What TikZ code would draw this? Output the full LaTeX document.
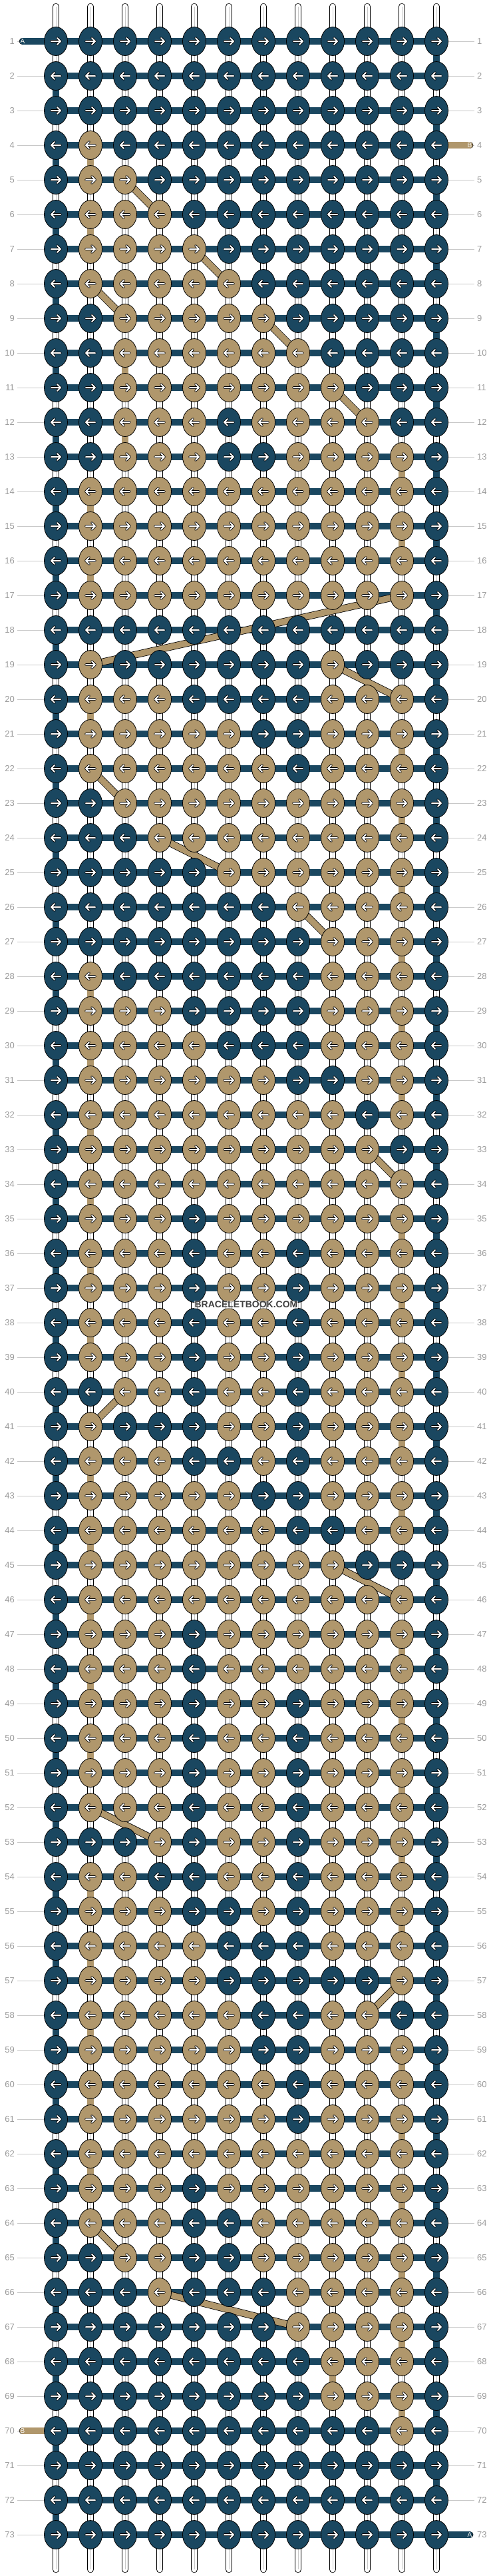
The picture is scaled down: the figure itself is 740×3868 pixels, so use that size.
\documentclass[tikz,border=0pt]{standalone}
\usepackage{fontspec}
\setmainfont{Liberation Sans}
\usetikzlibrary{shapes.geometric}
\definecolor{cordblue}{RGB}{26,71,96}
\definecolor{cordtan}{RGB}{176,151,108}
\definecolor{numgray}{RGB}{155,155,155}
\definecolor{linegray}{RGB}{200,200,200}
\pgfdeclarelayer{warp}
\pgfdeclarelayer{weft}
\pgfsetlayers{warp,weft,main}
\tikzset{
  knot/.style={ellipse, draw=black, line width=0.8pt, minimum width=35pt,
    minimum height=43pt, inner sep=0pt},
  c0/.style={fill=cordblue},
  c1/.style={fill=cordtan},
  strand/.style={draw=black, line width=0.8pt, double distance=9.2pt},
  warpstr/.style={strand, double=white, double distance=8.8pt, line cap=round},
  ablue/.style={strand, double=cordblue},
  btan/.style={strand, double=cordtan},
  rowno/.style={text=numgray, font=\fontsize{13}{13}\selectfont, inner sep=4pt},
  endno/.style={text=white!90!cordtan, font=\fontsize{10}{10}\selectfont, inner sep=0pt},
  pics/knotarrow/.style={code={
    \draw[black, line width=3.8pt, line cap=round, line join=round]
      ({-7*(#1)},0) -- ({7*(#1)},0) ({2*(#1)},-5) -- ({7*(#1)},0) -- ({2*(#1)},5);
    \draw[white, line width=2pt, line cap=round, line join=round]
      ({-7*(#1)},0) -- ({7*(#1)},0) ({2*(#1)},-5) -- ({7*(#1)},0) -- ({2*(#1)},5);
  }}
}
\begin{document}
\begin{tikzpicture}[x=1pt,y=-1pt]
\useasboundingbox (0,0) rectangle (740,3868);
\foreach \bits [count=\r] in {
  {0,0,0,0,0,0,0,0,0,0,0,0},{0,0,0,0,0,0,0,0,0,0,0,0},{0,0,0,0,0,0,0,0,0,0,0,0},
  {0,1,0,0,0,0,0,0,0,0,0,0},{0,1,1,0,0,0,0,0,0,0,0,0},{0,1,1,1,0,0,0,0,0,0,0,0},
  {0,1,1,1,1,0,0,0,0,0,0,0},{0,1,1,1,1,1,0,0,0,0,0,0},{0,0,1,1,1,1,1,0,0,0,0,0},
  {0,0,1,1,1,1,1,1,0,0,0,0},{0,0,1,1,1,1,1,1,1,0,0,0},{0,0,1,1,1,0,1,1,1,1,0,0},
  {0,0,1,1,1,0,0,1,1,1,1,0},{0,1,1,1,1,1,1,1,1,1,1,0},{0,1,1,1,1,1,1,1,1,1,1,0},
  {0,1,1,1,1,1,1,1,1,1,1,0},{0,1,1,1,1,1,1,1,1,1,1,0},{0,0,0,0,0,0,0,0,0,0,0,0},
  {0,1,0,0,0,0,0,0,1,0,0,0},{0,1,1,1,0,0,0,0,1,1,1,0},{0,1,1,1,1,1,0,0,1,1,1,0},
  {0,1,1,1,1,1,1,0,1,1,1,0},{0,0,1,1,1,1,1,1,1,1,1,0},{0,0,0,1,1,1,1,1,1,1,1,0},
  {0,0,0,0,0,1,1,1,1,1,1,0},{0,0,0,0,0,0,0,1,1,1,1,0},{0,0,0,0,0,0,0,0,1,1,1,0},
  {0,1,0,0,0,0,0,0,1,1,1,0},{0,1,1,1,0,0,0,0,1,1,1,0},{0,1,1,1,1,0,0,0,1,1,1,0},
  {0,1,1,1,1,1,1,0,0,1,1,0},{0,1,1,1,1,1,1,1,1,0,1,0},{0,1,1,1,1,1,1,1,1,1,0,0},
  {0,1,1,1,1,1,1,1,1,1,1,0},{0,1,1,1,0,1,1,1,1,1,1,0},{0,1,1,1,0,1,1,0,1,1,1,0},
  {0,1,1,1,0,1,1,0,1,1,1,0},{0,1,1,1,0,1,1,0,1,1,1,0},{0,1,1,1,0,1,1,0,1,1,1,0},
  {0,0,1,1,0,1,1,0,1,1,1,0},{0,1,0,0,0,1,1,0,1,1,1,0},{0,1,1,1,0,0,1,0,1,1,1,0},
  {0,1,1,1,1,1,0,0,1,1,1,0},{0,1,1,1,1,1,1,0,0,1,1,0},{0,1,1,1,1,1,1,1,1,0,0,0},
  {0,1,1,1,1,1,1,1,1,1,1,0},{0,1,1,1,0,1,1,1,1,1,1,0},{0,1,1,1,0,1,1,1,1,1,1,0},
  {0,1,1,1,0,1,1,0,1,1,1,0},{0,1,1,1,0,1,1,0,1,1,1,0},{0,1,1,1,0,1,1,0,1,1,1,0},
  {0,1,1,1,0,1,1,0,1,1,1,0},{0,0,0,1,0,1,1,0,1,1,1,0},{0,1,1,0,0,1,1,0,1,1,1,0},
  {0,1,1,1,0,0,1,0,1,1,1,0},{0,1,1,1,1,0,0,0,1,1,1,0},{0,1,1,1,1,0,0,0,0,0,1,0},
  {0,1,1,1,1,1,0,0,1,1,0,0},{0,1,1,1,1,1,0,0,1,1,1,0},{0,1,1,1,1,1,1,0,1,1,1,0},
  {0,1,1,1,1,1,1,0,1,1,1,0},{0,1,1,1,1,1,1,1,1,1,1,0},{0,1,1,1,0,1,1,1,1,1,1,0},
  {0,1,1,1,0,0,1,1,1,1,1,0},{0,0,1,1,0,0,1,1,1,1,1,0},{0,0,0,1,0,0,0,1,1,1,1,0},
  {0,0,0,0,0,0,0,1,1,1,1,0},{0,0,0,0,0,0,0,0,1,1,1,0},{0,0,0,0,0,0,0,0,1,1,1,0},
  {0,0,0,0,0,0,0,0,0,0,1,0},{0,0,0,0,0,0,0,0,0,0,0,0},{0,0,0,0,0,0,0,0,0,0,0,0},
  {0,0,0,0,0,0,0,0,0,0,0,0}} {
  \pgfmathtruncatemacro\s{1-2*mod(\r+1,2)}
  \foreach \b [count=\c] in \bits {
    \node[knot, c\b] (k-\r-\c) at ({84+52*(\c-1)},{62+52*(\r-1)}) {};
    \pic at (k-\r-\c) {knotarrow=\s};
  }
  \node[rowno, anchor=east] (ln-\r) at (26,{62+52*(\r-1)}) {\r};
  \node[rowno, anchor=west] (rn-\r) at (713,{62+52*(\r-1)}) {\r};
  \begin{pgfonlayer}{warp}
    \draw[linegray, line width=0.8pt] (ln-\r.east) -- (k-\r-1.center)
      (k-\r-12.center) -- (rn-\r.west);
  \end{pgfonlayer}
  \begin{pgfonlayer}{weft}
    \draw[ablue] (k-\r-1.center) -- (k-\r-12.center);
  \end{pgfonlayer}
}
\foreach \c in {1,...,12} {
  \coordinate (top-\c) at ({84+52*(\c-1)},10);
  \coordinate (bot-\c) at ({84+52*(\c-1)},3858);
  \begin{pgfonlayer}{warp}
    \draw[warpstr] (top-\c) -- (bot-\c);
    \draw[linegray, line width=0.5pt] (top-\c) -- (bot-\c);
  \end{pgfonlayer}
}
\node[endno] (aIn) at (34,62) {A};
\node[endno] (aOut) at (706,3806) {A};
\node[endno] (bIn) at (706,218) {B};
\node[endno] (bOut) at (34,3650) {B};
\begin{pgfonlayer}{weft}
  \draw[ablue, line cap=round] (aIn.center) -- (k-1-1.center);
  \draw[ablue, line cap=round] (k-73-12.center) -- (aOut.center);
  \draw[btan, line cap=round] (bIn.center) -- (k-4-12.center);
  \draw[btan, line cap=round] (k-70-1.center) -- (bOut.center);
  \foreach \r in {1,3,...,71} {
    \pgfmathtruncatemacro\n{\r+1}
    \draw[ablue] (k-\r-12.center) -- (k-\n-12.center);
  }
  \foreach \r in {2,4,...,72} {
    \pgfmathtruncatemacro\n{\r+1}
    \draw[ablue] (k-\r-1.center) -- (k-\n-1.center);
  }
  \foreach \ra/\ca/\rb/\cb in {4/2/5/2, 5/3/6/4, 6/2/7/2, 7/5/8/6, 8/2/9/3,
      9/7/10/8, 10/3/11/3, 11/9/12/10, 12/3/13/3, 13/11/14/11, 14/2/15/2,
      15/11/16/11, 16/2/17/2, 17/11/19/2, 19/9/20/11, 20/2/21/2, 21/11/22/11,
      22/2/23/3, 23/11/24/11, 24/4/25/6, 25/11/26/11, 26/8/27/9, 27/11/28/11,
      28/2/29/2, 29/11/30/11, 30/2/31/2, 31/11/32/11, 32/2/33/2, 33/10/34/11,
      34/2/35/2, 35/11/36/11, 36/2/37/2, 37/11/38/11, 38/2/39/2, 39/11/40/11,
      40/3/41/2, 41/11/42/11, 42/2/43/2, 43/11/44/11, 44/2/45/2, 45/9/46/11,
      46/2/47/2, 47/11/48/11, 48/2/49/2, 49/11/50/11, 50/2/51/2, 51/11/52/11,
      52/2/53/4, 53/11/54/11, 54/2/55/2, 55/11/56/11, 56/2/57/2, 57/11/58/10,
      58/2/59/2, 59/11/60/11, 60/2/61/2, 61/11/62/11, 62/2/63/2, 63/11/64/11,
      64/2/65/3, 65/11/66/11, 66/4/67/8, 67/11/68/11, 68/9/69/9, 69/11/70/11}
    \draw[btan] (k-\ra-\ca.center) -- (k-\rb-\cb.center);
\end{pgfonlayer}
\node[font=\bfseries\fontsize{14}{14}\selectfont, text=black!75, fill=white,
  fill opacity=0.6, text opacity=1, inner sep=1pt] (mark) at (370,1959)
  {BRACELETBOOK.COM};
\end{tikzpicture}
\end{document}
